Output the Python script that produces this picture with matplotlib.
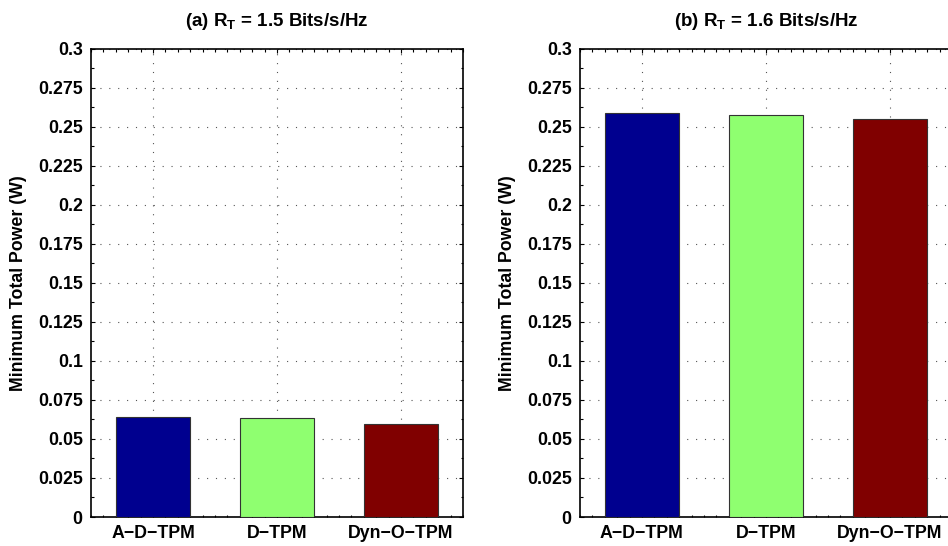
import matplotlib
matplotlib.use("Agg")
import matplotlib.pyplot as plt
from matplotlib.ticker import MultipleLocator

plt.rcParams["font.family"] = ["Liberation Sans", "DejaVu Sans"]
plt.rcParams["font.weight"] = "bold"
plt.rcParams["mathtext.fontset"] = "custom"
plt.rcParams["mathtext.rm"] = "Liberation Sans:bold"
plt.rcParams["mathtext.bf"] = "Liberation Sans:bold"
plt.rcParams["mathtext.it"] = "Liberation Sans:bold"

# data
methods = ["A\u2212D\u2212TPM", "D\u2212TPM", "Dyn\u2212O\u2212TPM"]
power_15 = [0.0642, 0.0636, 0.0594]
power_16 = [0.2587, 0.2572, 0.2550]
titles = [r"(a) R$_\mathrm{T}$ = 1.5 Bits/s/Hz", r"(b) R$_\mathrm{T}$ = 1.6 Bits/s/Hz"]
bar_colors = ["#00008F", "#8FFF70", "#800000"]
yticks = [0, 0.025, 0.05, 0.075, 0.1, 0.125, 0.15, 0.175, 0.2, 0.225, 0.25, 0.275, 0.3]

W, H = 948, 546
fig = plt.figure(figsize=(W / 100, H / 100), dpi=100)

bottom = (H - 517) / H
height = 468.5 / H
lefts = [91, 580]
fs = 12.8

for left, vals, title in zip(lefts, [power_15, power_16], titles):
    ax = fig.add_axes([left / W, bottom, 372 / W, height])
    x = list(range(1, len(methods) + 1))
    ax.bar(x, vals, width=0.6, color=bar_colors, edgecolor="#333333",
           linewidth=0.8, zorder=3)
    ax.set_xlim(0.5, 3.5)
    ax.set_ylim(0, 0.3)
    ax.set_xticks(x)
    ax.set_xticklabels(methods, fontsize=fs, fontweight="bold")
    ax.set_yticks(yticks)
    ax.set_yticklabels([f"{v:g}" for v in yticks], fontsize=fs, fontweight="bold")
    ax.xaxis.set_minor_locator(MultipleLocator(0.1))
    ax.yaxis.set_minor_locator(MultipleLocator(0.0125))
    ax.tick_params(which="both", direction="in", top=True, right=True, width=0.8)
    ax.tick_params(which="major", length=3.2, pad=6)
    ax.tick_params(which="minor", length=1.8)
    ax.grid(True, which="major", linestyle=(0, (1, 7)), color="#555555",
            linewidth=0.8, zorder=0)
    ax.set_axisbelow(True)
    for s in ax.spines.values():
        s.set_linewidth(1.2)
    ax.set_ylabel("Minimum Total Power (W)", fontsize=fs, fontweight="bold",
                  labelpad=8)
    ax.set_title(title, fontsize=13.5, fontweight="bold", pad=16)

fig.savefig("out.png", dpi=100)
